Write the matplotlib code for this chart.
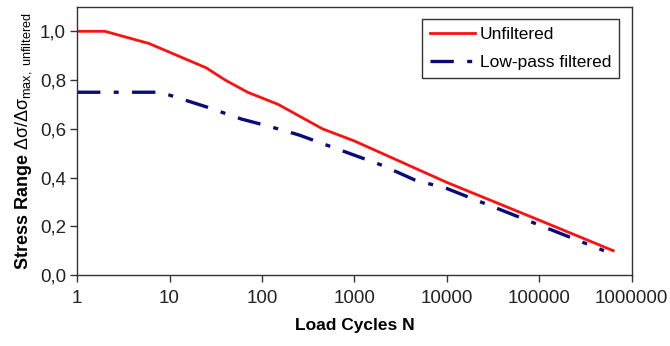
import matplotlib
matplotlib.use("Agg")
import matplotlib.pyplot as plt
from matplotlib.ticker import FixedLocator, FuncFormatter, NullLocator

plt.rcParams["font.family"] = ["Liberation Sans", "DejaVu Sans"]
plt.rcParams["mathtext.fontset"] = "custom"
plt.rcParams["mathtext.rm"] = "Liberation Sans"
plt.rcParams["mathtext.it"] = "Liberation Sans:italic"
plt.rcParams["mathtext.bf"] = "Liberation Sans:bold"

# values
unf_n = [1, 2, 6, 25, 40, 70, 150, 450, 1000, 10000, 100000, 630000]
unf_s = [1.0, 1.0, 0.95, 0.85, 0.80, 0.75, 0.70, 0.60, 0.55, 0.38, 0.225, 0.10]

lp_n = [1, 8, 25, 60, 120, 250, 2000, 4500, 10000, 100000, 500000]
lp_s = [0.75, 0.75, 0.69, 0.64, 0.61, 0.575, 0.45, 0.39, 0.355, 0.205, 0.10]

x_ticks = [1, 10, 100, 1000, 10000, 100000, 1000000]
y_ticks = [0.0, 0.2, 0.4, 0.6, 0.8, 1.0]

fig = plt.figure(figsize=(6.7, 3.46), dpi=100)
ax = fig.add_axes([0.115, 0.205, 0.828, 0.775])

ax.plot(unf_n, unf_s, color="#ff1010", lw=2.0, label="Unfiltered")
ax.plot(lp_n, lp_s, color="#0a0a78", lw=2.4, dashes=(7, 4, 1.5, 4),
        label="Low-pass filtered")

ax.set_xscale("log")
ax.set_xlim(1, 1000000)
ax.set_ylim(0, 1.1)
ax.xaxis.set_major_locator(FixedLocator(x_ticks))
ax.xaxis.set_minor_locator(NullLocator())
ax.xaxis.set_major_formatter(FuncFormatter(lambda v, p: f"{int(round(v))}"))
ax.yaxis.set_major_locator(FixedLocator(y_ticks))
ax.yaxis.set_major_formatter(FuncFormatter(lambda v, p: f"{v:.1f}".replace(".", ",")))

ax.tick_params(axis="both", labelsize=13.5, direction="out", length=5,
               width=1, color="#333333", labelcolor="#222222")
ax.tick_params(axis="x", pad=6)
ax.tick_params(axis="y", pad=3)
for s in ax.spines.values():
    s.set_color("#333333")
    s.set_linewidth(1.0)

ax.set_xlabel("Load Cycles N", fontsize=12.5, fontweight="bold", labelpad=8)
ax.set_ylabel(r"$\mathbf{Stress\ Range}\ \mathrm{\Delta\sigma/\Delta\sigma}_{\mathrm{max,\ unfiltered}}$",
              fontsize=13, labelpad=4)

leg = ax.legend(loc="upper right", fontsize=12.5, frameon=True, fancybox=False,
                edgecolor="black", handlelength=2.6, borderpad=0.45,
                labelspacing=0.75, handletextpad=0.3, borderaxespad=0,
                bbox_to_anchor=(0.977, 0.955))
leg.get_frame().set_linewidth(1.0)

fig.savefig("out.png", dpi=100)
